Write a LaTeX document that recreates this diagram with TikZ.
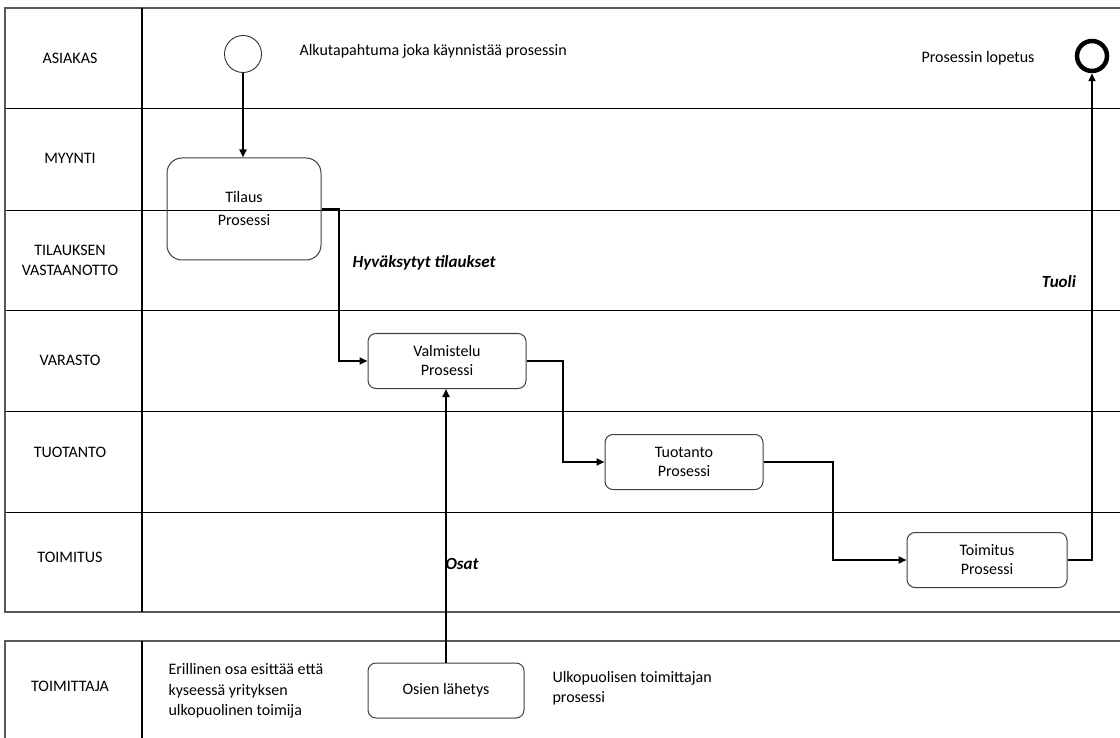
\documentclass[tikz,border=0pt]{standalone}
\usepackage{fontspec}
\setmainfont{Carlito}
\usetikzlibrary{arrows.meta,calc}
\begin{document}
\begin{tikzpicture}[x=1pt,y=-1pt,
  lane/.style={draw=black,line width=0.9pt},
  frame/.style={draw=black!65,line width=1.6pt},
  sep/.style={draw=black,line width=1.6pt},
  lbl/.style={font=\fontsize{16}{20}\selectfont,align=center},
  txt/.style={font=\fontsize{16}{20}\selectfont,align=left,anchor=west},
  emph/.style={font=\fontsize{17}{20}\selectfont\bfseries\itshape},
  proc/.style={draw=black!75,line width=1pt,rounded corners=8pt,font=\fontsize{16}{19}\selectfont,align=center,inner sep=0pt},
  flow/.style={draw=black,line width=2pt,-{Triangle[length=8pt,width=7pt]}}
]
\useasboundingbox (0,0) rectangle (1120,738);
\fill[white] (0,0) rectangle (1120,738);
% main pool
\foreach \y in {108,210,310,411,512} \draw[lane] (5,\y) -- (1120,\y);
\draw[frame] (1120,8) -- (5,8) -- (5,612) -- (1120,612);
\draw[sep] (142,8) -- (142,612);
% supplier pool
\draw[frame] (1120,641) -- (5,641) -- (5,738);
\draw[sep] (142,641) -- (142,738);
% lane labels
\node[lbl] (l1) at (70,58) {ASIAKAS};
\node[lbl] (l2) at (70,158) {MYYNTI};
\node[lbl] (l3) at (70,260) {TILAUKSEN\\VASTAANOTTO};
\node[lbl] (l4) at (70,360) {VARASTO};
\node[lbl] (l5) at (70,452) {TUOTANTO};
\node[lbl] (l6) at (70,557) {TOIMITUS};
\node[lbl] (l7) at (70,686) {TOIMITTAJA};
% events
\node[circle,draw=black!80,line width=0.9pt,minimum size=37pt,inner sep=0pt] (start) at (243,54) {};
\node[txt] (starttxt) at (296,51) {Alkutapahtuma joka käynnistää prosessin};
\node[circle,draw=black,line width=4.5pt,minimum size=30pt,inner sep=0pt] (end) at (1092,56) {};
\node[lbl] (endtxt) at (978,58) {Prosessin lopetus};
% processes
\node[proc,rounded corners=15pt,minimum width=154pt,minimum height=102pt,font=\fontsize{16}{23}\selectfont] (tilaus) at (244,209) {\raisebox{-3pt}{Tilaus}\\\raisebox{-3pt}{Prosessi}};
\node[proc,minimum width=158pt,minimum height=55pt] (valm) at (447,361) {Valmistelu\\Prosessi};
\node[proc,minimum width=158pt,minimum height=55pt] (tuot) at (684,462) {Tuotanto\\Prosessi};
\node[proc,minimum width=160pt,minimum height=55pt] (toim) at (987,560) {Toimitus\\Prosessi};
\node[proc,minimum width=156pt,minimum height=55pt] (osien) at (446,690.5) {Osien lähetys};
% flow labels
\node[emph] (hyv) at (424,263) {Hyväksytyt tilaukset};
\node[emph] (tuoli) at (1059,282) {Tuoli};
\node[emph] (osat) at (462,564) {Osat};
% supplier texts
\node[txt,font=\fontsize{16}{20.5}\selectfont] (eril) at (165,691) {Erillinen osa esittää että\\kyseessä yrityksen\\ulkopuolinen toimija};
\node[txt] (ulko) at (549,688) {Ulkopuolisen toimittajan\\prosessi};
% bend points
\coordinate (b1) at ($(tilaus.east)+(17,0)$);
\coordinate (b2) at ($(valm.east)+(36,0)$);
\coordinate (b3) at ($(tuot.east)+(69,0)$);
% connectors
\draw[flow] (start.south) -- (start.south |- tilaus.north);
\draw[flow] (tilaus.east) -- (b1) -- (b1 |- valm.west) -- (valm.west);
\draw[flow] (valm.east) -- (b2) -- (b2 |- tuot.west) -- (tuot.west);
\draw[flow] (tuot.east) -- (b3) -- (b3 |- toim.west) -- (toim.west);
\draw[flow] (toim.east) -| (end.south);
\draw[flow] (osien.north) -- (osien.north |- valm.south);
\end{tikzpicture}
\end{document}
